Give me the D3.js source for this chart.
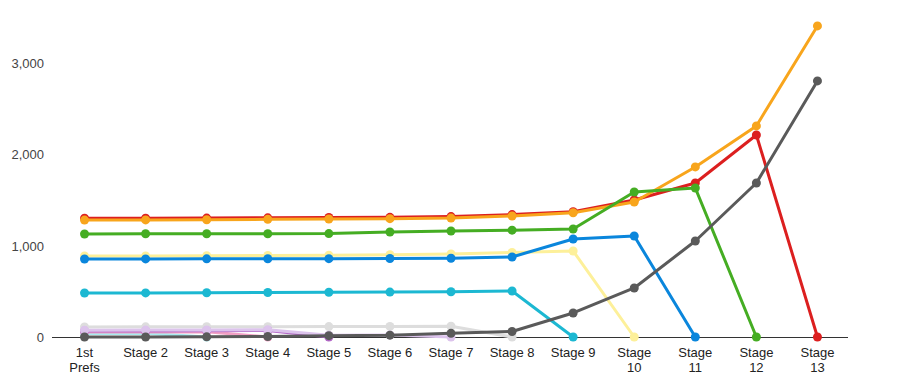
<!DOCTYPE html>
<html>
<head>
<meta charset="utf-8">
<script src="https://cdn.jsdelivr.net/npm/d3@7"></script>
<style>
  body { margin: 0; background: #fff; }
  svg { display: block; font-family: Arial, "Liberation Sans", sans-serif; }
</style>
</head>
<body>
<svg id="chart" width="904" height="379"></svg>
<script>
// stage labels, "\n" marks where the label wraps
var stages = ["1st\nPrefs", "Stage 2", "Stage 3", "Stage 4", "Stage 5", "Stage 6", "Stage 7",
              "Stage 8", "Stage 9", "Stage\n10", "Stage\n11", "Stage\n12", "Stage\n13"];
var yTicks = [0, 1000, 2000, 3000];

// series values per stage (null = no longer in the count)
var red      = [1300, 1300, 1302, 1305, 1308, 1310, 1318, 1340, 1372, 1500, 1686, 2212, 0];
var orange   = [1280, 1282, 1284, 1288, 1292, 1296, 1302, 1325, 1360, 1478, 1862, 2311, 3406];
var green    = [1128, 1130, 1130, 1130, 1132, 1150, 1160, 1170, 1183, 1588, 1632, 0, null];
var yellow   = [887, 888, 890, 892, 895, 900, 910, 925, 942, 0, null, null, null];
var blue     = [854, 855, 856, 857, 858, 860, 862, 876, 1073, 1106, 0, null, null];
var cyan     = [482, 483, 484, 487, 490, 492, 495, 504, 0, null, null, null, null];
var ltgray   = [110, 111, 112, 113, 114, 116, 118, 0, null, null, null, null, null];
var ltcyan   = [38, 40, 0, null, null, null, null, null, null, null, null, null, null];
var pink     = [55, 56, 58, 0, null, null, null, null, null, null, null, null, null];
var purple   = [65, 66, 68, 72, 0, null, null, null, null, null, null, null, null];
var lavender = [75, 76, 78, 80, 20, 22, 0, null, null, null, null, null, null];
var dkgray   = [0, 0, 2, 5, 15, 20, 40, 60, 263, 537, 1051, 1686, 2804];

var series = [
    {values: red, color: "#dc1f1f"},
    {values: orange, color: "#f8a51c"},
    {values: green, color: "#45ad23"},
    {values: yellow, color: "#fdf09a"},
    {values: blue, color: "#0a86dc"},
    {values: cyan, color: "#1cb8d2"},
    {values: ltgray, color: "#dddddd"},
    {values: ltcyan, color: "#a6ecf0"},
    {values: pink, color: "#f1a0c4"},
    {values: purple, color: "#b468c8"},
    {values: lavender, color: "#dcc3ec"},
    {values: dkgray, color: "#5a5a5a"}
];

var svg = d3.select("#chart");

var x = d3.scalePoint().domain(d3.range(stages.length)).range([54, 848]).padding(0.5);
var y = d3.scaleLinear().domain([0, 3600]).range([337, 8.2]);

// y axis labels
svg.append("g").selectAll("text").data(yTicks).enter().append("text")
    .attr("x", 44).attr("y", function (d) { return y(d) + 5; })
    .attr("text-anchor", "end").attr("font-size", 13).attr("fill", "#444")
    .text(function (d) { return d3.format(",")(d); });

// baseline
svg.append("line").attr("x1", 52).attr("x2", 848)
    .attr("y1", y(0) + 0.5).attr("y2", y(0) + 0.5)
    .attr("stroke", "#333").attr("stroke-width", 1);

// x labels
var xl = svg.append("g").selectAll("text").data(stages).enter().append("text")
    .attr("x", function (d, i) { return x(i); }).attr("y", 357)
    .attr("text-anchor", "middle").attr("font-size", 13).attr("fill", "#222");
xl.each(function (d) {
    var parts = d.split("\n");
    var t = d3.select(this);
    parts.forEach(function (p, k) {
        t.append("tspan").attr("x", t.attr("x")).attr("dy", k == 0 ? 0 : 15).text(p);
    });
});

var line = d3.line()
    .defined(function (d) { return d != null; })
    .x(function (d, i) { return x(i); })
    .y(function (d) { return y(d); });

series.forEach(function (s) {
    var g = svg.append("g");
    g.append("path").datum(s.values).attr("d", line)
        .attr("fill", "none").attr("stroke", s.color).attr("stroke-width", 3)
        .attr("stroke-linejoin", "round");
    g.selectAll("circle").data(s.values.map(function (v, i) { return {v: v, i: i}; })
            .filter(function (d) { return d.v != null; }))
        .enter().append("circle")
        .attr("cx", function (d) { return x(d.i); })
        .attr("cy", function (d) { return y(d.v); })
        .attr("r", 4.5).attr("fill", s.color);
});
</script>
</body>
</html>
